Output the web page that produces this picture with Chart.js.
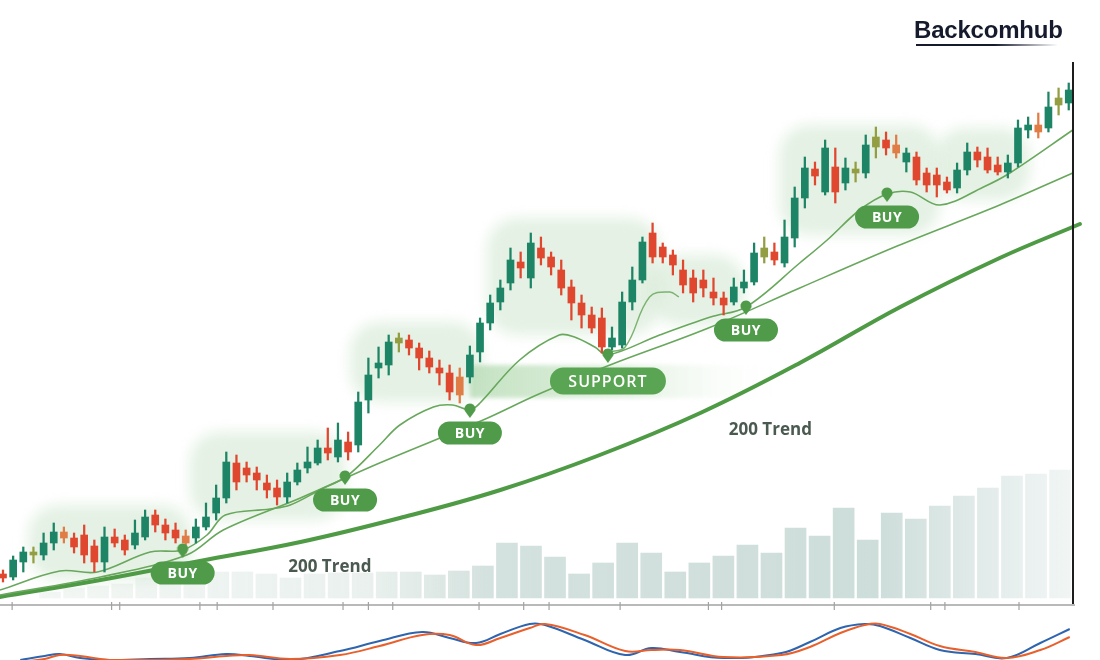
<!DOCTYPE html>
<html>
<head>
<meta charset="utf-8">
<script src="https://cdn.jsdelivr.net/npm/chart.js@4/dist/chart.umd.min.js"></script>
<style>
  body { margin: 0; background: #fff; }
  #wrap { position: relative; width: 1100px; height: 660px; overflow: hidden; background: #fff; }
  #main { position: absolute; left: 0; top: 0; }
  #osc { position: absolute; left: 0; top: 612px; }
  .logo { position: absolute; left: 914px; top: 16px; font: bold 24px "Liberation Sans", Arial, sans-serif; color: #151b2d; letter-spacing: -0.2px; }
  .logo-line { position: absolute; left: 916px; top: 44px; width: 142px; height: 2px; background: linear-gradient(90deg, #151b2d, #151b2d 55%, rgba(21,27,45,0)); }
  .edge { position: absolute; left: 1072px; top: 62px; width: 2px; height: 542px; background: #1d1d1d; }
</style>
</head>
<body>
<div id="wrap">
  <canvas id="main" width="1100" height="610"></canvas>
  <canvas id="osc" width="1100" height="48"></canvas>
  <div class="logo">Backcomhub</div>
  <div class="logo-line"></div>
  <div class="edge"></div>
</div>
<script>
// candles (price units, one per session)
const open = [36,33,48,55,55,67,78,72,75,64, 48,73,70,65,73,95,85,80,74,72,
  83,97,112,147,142,137,127,122,113,128, 142,147,162,153,168,165,210,242,245,267,
  270,262,252,242,237,233,233,258,287,308, 327,348,332,362,353,340,323,307,295,292,
  263,265,308,330,377,363,355,340,332,330, 318,312,308,322,328,353,358,347,372,412,
  441,418,443,427,437,437,463,470,465,448, 453,437,435,428,422,440,458,453,445,438,
  447,480,485,482,505,507];
const close = [32,50,58,58,67,78,72,63,55,48, 73,67,60,77,93,85,77,72,67,83,
  93,112,148,128,135,130,120,113,128,140, 148,162,157,170,158,208,235,247,268,272,
  262,252,243,237,218,215,255,287,307,322, 350,342,367,352,343,322,307,295,282,263,
  272,308,330,368,353,353,345,325,317,322, 312,305,323,328,357,362,350,373,412,442,
  434,462,418,442,441,465,473,462,457,457, 430,425,425,420,440,458,450,440,438,447,
  482,485,478,503,512,520];
const high = [40,54,63,63,77,87,83,77,85,70, 83,81,75,90,100,100,91,87,80,91,
  107,125,158,155,148,143,135,130,137,147, 163,170,182,187,178,218,252,263,275,277,
  275,267,259,250,245,242,264,292,315,330, 362,358,377,373,358,350,330,315,303,302,
  283,318,343,373,387,367,360,350,340,340, 332,318,332,340,367,373,367,390,423,453,
  448,470,462,452,448,475,483,478,475,462, 458,442,442,433,447,467,463,462,453,455,
  490,493,497,518,522,527];
const low = [28,30,38,47,50,60,67,57,47,38, 38,63,55,61,70,78,70,67,57,67,
  80,90,107,120,128,120,112,105,107,125, 137,145,150,148,150,158,197,232,235,258,
  255,240,237,225,210,207,227,248,280,300, 320,332,322,345,335,315,290,282,277,257,
  260,262,300,327,347,347,335,317,308,313, 305,295,305,317,325,347,345,343,363,402,
  425,415,407,420,428,432,452,455,452,438, 425,418,413,417,417,435,443,437,435,432,
  443,472,472,478,495,500];
// g = up, r = down, o = orange doji, y = olive doji
const tone = ("rggyggorrrgrrggrrrog" + "gggrrrrrggggrgrggggy" + "rrrrrogggggrgrrrrrrr" +
  "ggggrrrrrrrrgggyrggg" + "rgrgygyrogrrrrggrrrg" + "ggogyg").split("");

// moving averages (session index, price)
const fastIdx = [-0.3, 5.6, 9.3, 14.5, 17.7, 20.1, 21.9, 26.3, 28.3, 31.2, 33.9, 37.1, 39.1, 42.4, 44.3, 46, 47,
  50.9, 54.8, 56.3, 58.3, 59.6, 64.7, 69.7, 73.2, 78.5, 81.2, 84.4, 87.1, 89.4, 92.3, 96.6, 99.2, 105.4];
const fastMA = [20, 39, 38, 58, 60, 75, 95, 101, 105, 120, 134, 165, 185, 203, 205, 200, 207,
  250, 275, 273, 263, 255, 275, 293, 303, 347, 370, 400, 416, 418, 405, 423, 437, 480];
const midIdx = [-0.3, 9.6, 18.1, 21.7, 29.3, 37.1, 47.3, 52.8, 59.8, 69.5, 78.5, 88.1, 98.2, 105.4];
const midMA = [15, 33, 55, 80, 112, 147, 190, 216, 245, 282, 322, 364, 405, 437];
const hookIdx = [59.6, 61.3, 63.7, 65.7, 66.6];
const hookMA = [258, 263, 313, 318, 313];
const trendIdx = [-0.3, 9.6, 19.4, 29.3, 39.1, 49, 58.8, 68.7, 78.5, 88.4, 98.2, 106.1];
const trend200 = [13, 30, 49, 68, 92, 120, 155, 197, 247, 303, 352, 386];

// signals
const signalIdx = [17.7, 33.7, 46, 59.6, 73.2, 87.1];
const signalPrice = [60, 133, 200, 255, 303, 416];
const signalText = ["BUY", "BUY", "BUY", "SUPPORT", "BUY", "BUY"];
const trendLabelIdx = [32.2, 75.6];
const trendLabelPrice = [43, 180];

// consolidation zones and support band
const zoneFrom = [2.5, 18.4, 34.2, 47.7, 63.7, 76.5, 91.8];
const zoneTo = [18.6, 33.7, 47.2, 64.7, 73.1, 92.3, 101.2];
const zoneLow = [30, 90, 208, 275, 285, 375, 410];
const zoneHigh = [105, 178, 288, 392, 355, 485, 482];
const supportRange = [46, 76.5];
const supportBand = [212, 245];

// volume (own bucket grid)
const volume = [6,10,12,14,20,18,20,26,26,24,20,24,25,25,26,
  26,23,27,32,55,52,41,24,35,55,45,26,35,42,53,45,70,62,90,58,85,79,92,102,110,122,124,128];

// axis ticks
const axisTicks = [0.9, 10.7, 11.5, 19.4, 21.1, 26.6, 33.5, 36, 38.4, 46.9, 51.3, 53.8, 60.8, 69.5, 70.8, 81.9, 91.4, 92.8, 100.1];
const axisLevel = 5;

// oscillator
const oscIdx = [1.7, 4.1, 5.6, 7.6, 10.5, 14.5, 18.4, 22, 24.3, 28.3, 33.2, 37.1, 41.3, 44, 46.6, 49, 51.9,
  53.4, 57.3, 61.3, 63.9, 66.7, 71, 76.7, 79.5, 82.5, 84.9, 86.4, 89.4, 92.3, 95.8, 98.9, 102.2, 105.1];
const oscFast = [0, 4, 6, 2, 0, 1, 2, 6, 4, 0, 9, 19, 28, 22, 17, 26, 36,
  35, 20, 5, 12, 8, 2, 7, 18, 32, 36, 34, 22, 10, 6, 2, 17, 31];
const oscSlow = [-2, 1, 5, 4, 0, 0, 1, 4, 5, 1, 5, 14, 25, 25, 15, 22, 32,
  36, 25, 9, 10, 10, 3, 5, 13, 27, 35, 36, 26, 14, 8, 2, 10, 23];

const toneColor = { g: "#1d8566", r: "#e0472f", o: "#e07c45", y: "#939e42" };
const GREEN = "#4f9b4a";

const pts = (xs, ys) => xs.map((x, i) => ({ x, y: ys[i] }));
const candleColors = tone.map((t) => toneColor[t]);

// pin marker for signals
const pin = document.createElement("canvas");
pin.width = 14;
pin.height = 24;
(() => {
  const c = pin.getContext("2d");
  c.fillStyle = GREEN;
  c.beginPath();
  c.arc(7, 11, 5.5, Math.PI * 0.1, Math.PI * 0.9, true);
  c.lineTo(7, 20);
  c.closePath();
  c.fill();
})();

const zonesPlugin = {
  id: "zones",
  beforeDatasetsDraw(chart) {
    const { ctx } = chart;
    const x = chart.scales.x, y = chart.scales.y;
    ctx.save();
    ctx.filter = "blur(7px)";
    ctx.fillStyle = "rgba(210,232,210,0.6)";
    zoneFrom.forEach((f, k) => {
      const l = x.getPixelForValue(f), r = x.getPixelForValue(zoneTo[k]);
      const t = y.getPixelForValue(zoneHigh[k]), b = y.getPixelForValue(zoneLow[k]);
      ctx.beginPath();
      ctx.roundRect(l, t, r - l, b - t, 30);
      ctx.fill();
    });
    ctx.filter = "blur(2px)";
    const l = x.getPixelForValue(supportRange[0]), r = x.getPixelForValue(supportRange[1]);
    const t = y.getPixelForValue(supportBand[1]), b = y.getPixelForValue(supportBand[0]);
    const g = ctx.createLinearGradient(l, 0, r, 0);
    g.addColorStop(0, "rgba(190,223,188,0.9)");
    g.addColorStop(0.5, "rgba(205,231,203,0.65)");
    g.addColorStop(1, "rgba(255,255,255,0)");
    ctx.fillStyle = g;
    ctx.fillRect(l, t, r - l, b - t);
    ctx.restore();
  },
};

const labelsPlugin = {
  id: "labels",
  afterDatasetsDraw(chart) {
    const { ctx } = chart;
    const x = chart.scales.x, y = chart.scales.y;
    ctx.save();
    // axis baseline + ticks
    const ay = y.getPixelForValue(axisLevel);
    ctx.strokeStyle = "#a2a2a2";
    ctx.lineWidth = 1.5;
    ctx.beginPath();
    ctx.moveTo(0, ay);
    ctx.lineTo(1075, ay);
    ctx.stroke();
    ctx.lineWidth = 1.2;
    axisTicks.forEach((v) => {
      const px = x.getPixelForValue(v);
      ctx.beginPath();
      ctx.moveTo(px, ay - 3);
      ctx.lineTo(px, ay + 5);
      ctx.stroke();
    });
    // signal pills
    signalText.forEach((txt, k) => {
      const cx = x.getPixelForValue(signalIdx[k]);
      const big = txt.length > 3;
      const cy = y.getPixelForValue(signalPrice[k]) + (big ? 26 : 23);
      const w = big ? 116 : 64, h = big ? 27 : 23;
      ctx.fillStyle = big ? "#5aa553" : GREEN;
      ctx.beginPath();
      ctx.roundRect(cx - w / 2, cy - h / 2, w, h, h / 2);
      ctx.fill();
      ctx.fillStyle = "#fff";
      ctx.font = big ? '600 16px "Open Sans", sans-serif' : 'bold 14px "Open Sans", sans-serif';
      ctx.letterSpacing = big ? "1px" : "0.5px";
      ctx.textAlign = "center";
      ctx.textBaseline = "middle";
      ctx.fillText(txt, cx, cy + 1);
    });
    // trend labels
    ctx.letterSpacing = "0px";
    ctx.fillStyle = "#4a5a50";
    ctx.font = 'bold 17px "Open Sans", sans-serif';
    trendLabelIdx.forEach((v, k) => {
      ctx.fillText("200 Trend", x.getPixelForValue(v), y.getPixelForValue(trendLabelPrice[k]));
    });
    ctx.restore();
  },
};

let volGrad = null;
function volumeColor(c) {
  const { ctx } = c.chart;
  if (!volGrad) {
    volGrad = ctx.createLinearGradient(0, 0, 1100, 0);
    volGrad.addColorStop(0, "rgba(214,228,220,0.3)");
    volGrad.addColorStop(0.33, "rgba(206,222,214,0.42)");
    volGrad.addColorStop(0.44, "rgba(186,208,203,0.62)");
    volGrad.addColorStop(0.8, "rgba(184,207,203,0.7)");
    volGrad.addColorStop(0.9, "rgba(204,221,218,0.55)");
    volGrad.addColorStop(1, "rgba(232,240,238,0.45)");
  }
  return volGrad;
}

new Chart(document.getElementById("main"), {
  type: "bar",
  data: {
    datasets: [
      {
        type: "line",
        label: "Signals",
        data: pts(signalIdx, signalPrice),
        showLine: false,
        pointStyle: pin,
        pointRadius: 7,
        order: 0,
      },
      {
        label: "Body",
        data: open.map((o, i) => ({ x: i, y: [o, close[i]] })),
        backgroundColor: candleColors,
        barThickness: 7,
        grouped: false,
        order: 1,
      },
      {
        label: "Wick",
        data: low.map((l, i) => ({ x: i, y: [l, high[i]] })),
        backgroundColor: candleColors,
        barThickness: 1.6,
        grouped: false,
        order: 2,
      },
      {
        type: "line",
        label: "MA fast",
        data: pts(fastIdx, fastMA),
        borderColor: "#68a75c",
        borderWidth: 1.6,
        tension: 0.35,
        pointRadius: 0,
        order: 3,
      },
      {
        type: "line",
        label: "MA hook",
        data: pts(hookIdx, hookMA),
        borderColor: "#7cb370",
        borderWidth: 1.4,
        tension: 0.4,
        pointRadius: 0,
        order: 3,
      },
      {
        type: "line",
        label: "MA mid",
        data: pts(midIdx, midMA),
        borderColor: "#68a75c",
        borderWidth: 1.6,
        tension: 0.35,
        pointRadius: 0,
        order: 4,
      },
      {
        type: "line",
        label: "200 Trend",
        data: pts(trendIdx, trend200),
        borderColor: "#4e9a45",
        borderWidth: 4,
        tension: 0.4,
        pointRadius: 0,
        borderCapStyle: "round",
        order: 5,
      },
      {
        label: "Volume",
        data: volume.map((v, j) => ({ x: j, y: v })),
        xAxisID: "xv",
        yAxisID: "yv",
        backgroundColor: volumeColor,
        barThickness: 21,
        grouped: false,
        order: 10,
      },
    ],
  },
  options: {
    responsive: false,
    animation: false,
    events: [],
    layout: { padding: 0, autoPadding: false },
    plugins: { legend: { display: false }, tooltip: { enabled: false } },
    scales: {
      x: { type: "linear", min: -0.2956, max: 108.08, offset: false, display: false },
      y: { type: "linear", min: 0, max: 610, display: false },
      xv: { type: "linear", min: -2.079, max: 43.66, offset: false, display: false },
      yv: { type: "linear", min: -12, max: 598, display: false },
    },
  },
  plugins: [zonesPlugin, labelsPlugin],
});

new Chart(document.getElementById("osc"), {
  type: "line",
  data: {
    datasets: [
      {
        label: "Slow",
        data: pts(oscIdx, oscSlow),
        borderColor: "#e8612d",
        borderWidth: 2,
        tension: 0.4,
        pointRadius: 0,
      },
      {
        label: "Fast",
        data: pts(oscIdx, oscFast),
        borderColor: "#2f64ae",
        borderWidth: 2,
        tension: 0.4,
        pointRadius: 0,
      },
    ],
  },
  options: {
    responsive: false,
    animation: false,
    events: [],
    layout: { padding: 0, autoPadding: false },
    plugins: { legend: { display: false }, tooltip: { enabled: false } },
    scales: {
      x: { type: "linear", min: -0.2956, max: 108.08, display: false },
      y: { type: "linear", min: 0, max: 48, display: false },
    },
  },
});
</script>
</body>
</html>
